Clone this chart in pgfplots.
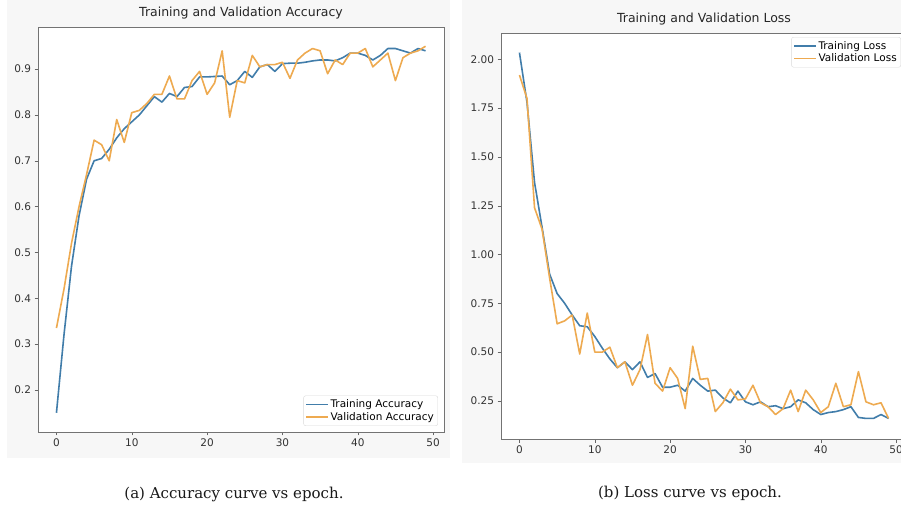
\documentclass[border=0pt]{standalone}
\usepackage{fontspec}
\setmainfont{DejaVu Sans}
\newfontfamily\capfont{DejaVu Serif}
\usepackage{pgfplots}
\pgfplotsset{compat=1.18}
\definecolor{tblue}{RGB}{65,125,170}
\definecolor{torange}{RGB}{238,170,80}
\definecolor{panel}{RGB}{247,247,247}

\pgfplotsset{mystyle/.style={
  scale only axis, anchor=south west,
  xmin=-2.45, xmax=51.45, xtick={0,10,20,30,40,50},
  tick pos=left, tick align=outside, major tick length=3.5pt,
  axis line style={black!55, line width=0.9pt}, every tick/.style={black!60},
  tick label style={font=\fontsize{10.5}{12}\selectfont, text=black!80},
  /pgf/number format/assume math mode=true,
  title style={font=\fontsize{12.5}{14}\selectfont, text=black!85, yshift=-2pt},
  axis background/.style={fill=white},
  legend style={font=\fontsize{10.5}{12}\selectfont, draw=black!15, fill=white,
    rounded corners=2pt, inner sep=2pt, row sep=-1pt},
  legend cell align=left,
  legend image code/.code={\draw[##1, line width=1.6pt] (0cm,0cm) -- (0.75cm,0cm);},
  every axis plot/.append style={line width=1.6pt, line join=round},
}}

\begin{document}
\begin{tikzpicture}[x=1pt,y=1pt]
\useasboundingbox (0,0) rectangle (901,508);
\clip (0,0) rectangle (901,508);
\fill[white] (0,0) rectangle (901,508);
\fill[panel] (7,50) rectangle (450,508);
\fill[panel] (462,45) rectangle (901,508);

\begin{axis}[mystyle, at={(38pt,76pt)}, width=406pt, height=405pt,
  ymin=0.108, ymax=0.992, ytick={0.2,0.3,0.4,0.5,0.6,0.7,0.8,0.9},
  yticklabel style={/pgf/number format/.cd, fixed, precision=1},
  title={Training and Validation Accuracy},
  legend style={at={(0.985,0.015)}, anchor=south east}]
\addplot[tblue, line width=1.6pt] coordinates {
(0,0.15)(1,0.32)(2,0.47)(3,0.58)(4,0.66)(5,0.70)(6,0.705)(7,0.725)(8,0.75)(9,0.77)
(10,0.785)(11,0.80)(12,0.82)(13,0.84)(14,0.828)(15,0.847)(16,0.84)(17,0.86)(18,0.862)(19,0.883)
(20,0.883)(21,0.884)(22,0.885)(23,0.866)(24,0.875)(25,0.895)(26,0.882)(27,0.905)(28,0.91)(29,0.895)
(30,0.912)(31,0.913)(32,0.913)(33,0.915)(34,0.918)(35,0.92)(36,0.92)(37,0.918)(38,0.925)(39,0.935)
(40,0.935)(41,0.93)(42,0.92)(43,0.93)(44,0.945)(45,0.945)(46,0.94)(47,0.935)(48,0.945)(49,0.94)};
\addlegendentry{Training Accuracy}
\addplot[torange, line width=1.6pt] coordinates {
(0,0.335)(1,0.42)(2,0.52)(3,0.60)(4,0.67)(5,0.745)(6,0.735)(7,0.70)(8,0.79)(9,0.74)
(10,0.805)(11,0.81)(12,0.825)(13,0.845)(14,0.845)(15,0.885)(16,0.835)(17,0.835)(18,0.875)(19,0.895)
(20,0.845)(21,0.87)(22,0.94)(23,0.795)(24,0.875)(25,0.87)(26,0.93)(27,0.905)(28,0.91)(29,0.91)
(30,0.915)(31,0.88)(32,0.92)(33,0.935)(34,0.945)(35,0.94)(36,0.89)(37,0.92)(38,0.91)(39,0.935)
(40,0.935)(41,0.945)(42,0.905)(43,0.92)(44,0.935)(45,0.875)(46,0.925)(47,0.935)(48,0.94)(49,0.95)};
\addlegendentry{Validation Accuracy}
\end{axis}

\begin{axis}[mystyle, at={(501pt,69pt)}, width=406pt, height=406pt,
  ymin=0.0545, ymax=2.1355, ytick={0.25,0.5,0.75,1,1.25,1.5,1.75,2},
  yticklabel style={/pgf/number format/.cd, fixed, fixed zerofill, precision=2},
  title={Training and Validation Loss},
  legend style={at={(0.985,0.99)}, anchor=north east}]
\addplot[tblue, line width=1.6pt] coordinates {
(0,2.035)(1,1.78)(2,1.37)(3,1.14)(4,0.90)(5,0.80)(6,0.75)(7,0.69)(8,0.635)(9,0.63)
(10,0.58)(11,0.52)(12,0.465)(13,0.42)(14,0.45)(15,0.41)(16,0.45)(17,0.37)(18,0.39)(19,0.32)
(20,0.32)(21,0.33)(22,0.30)(23,0.365)(24,0.33)(25,0.30)(26,0.305)(27,0.265)(28,0.24)(29,0.30)
(30,0.245)(31,0.23)(32,0.245)(33,0.22)(34,0.225)(35,0.21)(36,0.22)(37,0.255)(38,0.24)(39,0.205)
(40,0.18)(41,0.19)(42,0.195)(43,0.205)(44,0.22)(45,0.165)(46,0.16)(47,0.16)(48,0.18)(49,0.16)};
\addlegendentry{Training Loss}
\addplot[torange, line width=1.6pt] coordinates {
(0,1.92)(1,1.80)(2,1.24)(3,1.13)(4,0.88)(5,0.645)(6,0.66)(7,0.69)(8,0.49)(9,0.70)
(10,0.50)(11,0.50)(12,0.525)(13,0.42)(14,0.45)(15,0.33)(16,0.41)(17,0.59)(18,0.34)(19,0.30)
(20,0.42)(21,0.365)(22,0.21)(23,0.53)(24,0.36)(25,0.365)(26,0.195)(27,0.24)(28,0.31)(29,0.255)
(30,0.26)(31,0.33)(32,0.24)(33,0.22)(34,0.18)(35,0.21)(36,0.305)(37,0.195)(38,0.305)(39,0.255)
(40,0.19)(41,0.22)(42,0.34)(43,0.22)(44,0.23)(45,0.40)(46,0.245)(47,0.23)(48,0.24)(49,0.16)};
\addlegendentry{Validation Loss}
\end{axis}

\node[font=\capfont\fontsize{15}{17}\selectfont, text=black!90] at (234,14) {(a) Accuracy curve vs epoch.};
\node[font=\capfont\fontsize{15}{17}\selectfont, text=black!90] at (690,15) {(b) Loss curve vs epoch.};
\end{tikzpicture}
\end{document}
